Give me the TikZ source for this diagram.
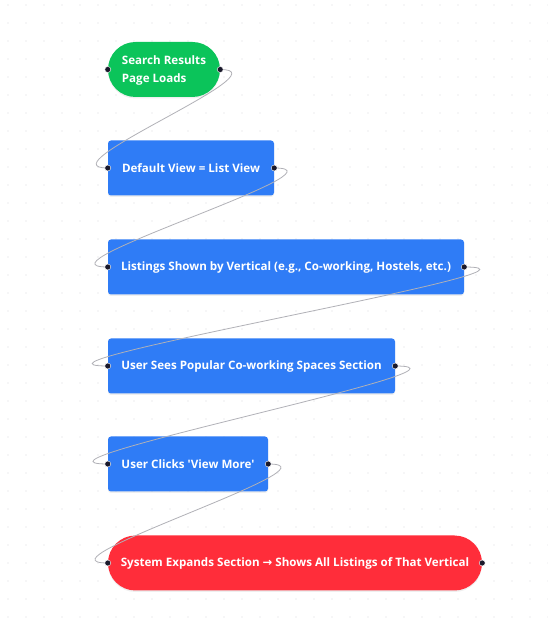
\documentclass[tikz,border=0pt]{standalone}
\usepackage{fontspec}
\setmainfont{Open Sans}[Ligatures=TeXOff]
\usetikzlibrary{shadows,calc}
\definecolor{bggrid}{HTML}{DCDCE0}
\definecolor{startgreen}{HTML}{0BC45A}
\definecolor{stepblue}{HTML}{2F7CF6}
\definecolor{endred}{HTML}{FF2D3A}
\definecolor{edgegray}{HTML}{B1B1B7}
\definecolor{handle}{HTML}{1A192B}
\tikzset{
  base/.style={text=white, font=\bfseries\fontsize{11.6}{18}\selectfont, minimum height=55pt, inner sep=0pt,
    drop shadow={shadow xshift=0pt, shadow yshift=-1.5pt, opacity=0.12}},
  pill/.style={base, rounded corners=27.5pt},
  stepbox/.style={base, fill=stepblue, rounded corners=3pt},
  edge/.style={draw=edgegray, line width=0.8pt},
  hdl/.style={fill=handle, draw=white, line width=0.4pt}
}
\begin{document}
\begin{tikzpicture}[x=1pt,y=1pt]
\useasboundingbox (0,0) rectangle (547,622);
\fill[white] (0,0) rectangle (547,622);
\foreach \i in {0,...,30} \foreach \j in {0,...,34} \fill[bggrid] (\i*18+8,\j*18+5) circle (0.55);
% nodes (y = 622 - pixel y)
\node[pill, fill=startgreen, minimum width=112pt] (n1) at (164,552.5) {\raisebox{-1.5pt}{\begin{tabular}{@{}l@{}}Search Results\\Page Loads\end{tabular}}};
\node[stepbox, minimum width=166pt] (n2) at (191,454) {Default View = List View};
\node[stepbox, minimum width=356pt] (n3) at (286,355) {Listings Shown by Vertical (e.g., Co-working, Hostels, etc.)};
\node[stepbox, minimum width=287pt] (n4) at (251.5,256) {User Sees Popular Co-working Spaces Section};
\node[stepbox, minimum width=160pt] (n5) at (188,158) {User Clicks 'View More'};
\node[pill, fill=endred, minimum width=374pt] (n6) at (295,59) {System Expands Section {\fontspec{DejaVu Sans}→} Shows All Listings of That Vertical};
% edges
\draw[edge] (n1.east) .. controls ($(n1.east)+(66.7,0)$) and ($(n2.west)+(-66.7,0)$) .. (n2.west);
\draw[edge] (n2.east) .. controls ($(n2.east)+(81,0)$) and ($(n3.west)+(-81,0)$) .. (n3.west);
\draw[edge] (n3.east) .. controls ($(n3.east)+(118,0)$) and ($(n4.west)+(-118,0)$) .. (n4.west);
\draw[edge] (n4.east) .. controls ($(n4.east)+(106,0)$) and ($(n5.west)+(-106,0)$) .. (n5.west);
\draw[edge] (n5.east) .. controls ($(n5.east)+(79.5,0)$) and ($(n6.west)+(-79.5,0)$) .. (n6.west);
% handles
\foreach \n in {n1,n2,n3,n4,n5,n6} {
  \fill[hdl] (\n.west) circle (3);
  \fill[hdl] (\n.east) circle (3);
}
\end{tikzpicture}
\end{document}
